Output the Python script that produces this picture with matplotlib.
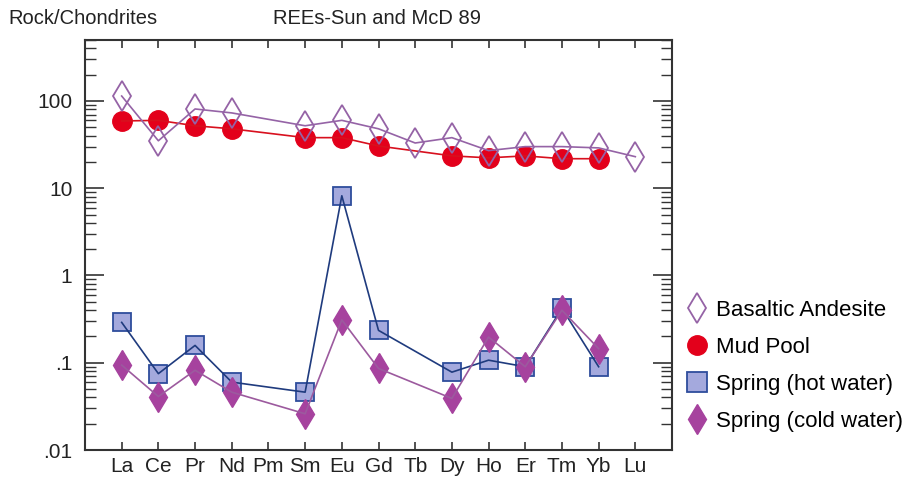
import numpy as np
import matplotlib
matplotlib.use('Agg')
import matplotlib.pyplot as plt
from matplotlib.lines import Line2D
from matplotlib.ticker import FixedLocator, LogLocator, NullFormatter, FixedFormatter

plt.rcParams['font.family'] = ['Liberation Sans', 'DejaVu Sans']

# REE order (chondrite normalised, Sun and McDonough 1989)
elements = ['La', 'Ce', 'Pr', 'Nd', 'Pm', 'Sm', 'Eu', 'Gd', 'Tb', 'Dy', 'Ho', 'Er', 'Tm', 'Yb', 'Lu']

# None = not measured
basaltic = [114, 35, 81, 73, None, 52, 60, 48, 33, 38, 27, 30, 30, 29, 23]
mud_pool = [59, 60, 52, 48, None, 38, 38, 30.5, None, 23.5, 22.3, 23.5, 21.8, 21.8, None]
spring_hot = [0.29, 0.075, 0.158, 0.060, None, 0.046, 8.2, 0.235, None, 0.078, 0.107, 0.090, 0.42, 0.090, None]
spring_cold = [0.094, 0.041, 0.082, 0.046, None, 0.026, 0.31, 0.086, None, 0.039, 0.197, 0.090, 0.40, 0.145, None]

labels = ['Basaltic Andesite', 'Mud Pool', 'Spring (hot water)', 'Spring (cold water)']

ytick_vals = [0.01, 0.1, 1, 10, 100]
ytick_labels = ['.01', '.1', '1', '10', '100']

x_all = np.arange(1, len(elements) + 1)


def valid(vals):
    xs = [x for x, v in zip(x_all, vals) if v is not None]
    ys = [v for v in vals if v is not None]
    return xs, ys


fig = plt.figure(figsize=(9.10, 4.78), dpi=100)
ax = fig.add_axes([85/910, 1 - 450/478, (672 - 85)/910, (450 - 40)/478])

# mud pool
xs, ys = valid(mud_pool)
ax.plot(xs, ys, ls='none', marker='o', ms=14, mfc='#e3001b', mec='#e3001b', zorder=2)
ax.plot(xs, ys, color='#d8101e', lw=1.2, zorder=2.1)

# basaltic andesite
xs, ys = valid(basaltic)
ax.plot(xs, ys, ls='none', marker='d', ms=15, mfc='none', mec='#9563a6', mew=1.3, zorder=2.2)
ax.plot(xs, ys, color='#9563a6', lw=1.2, zorder=2.3)

# hot spring
xs, ys = valid(spring_hot)
ax.plot(xs, ys, ls='none', marker='s', ms=13, mfc='#a4a9dd', mec='#2e4d9c', mew=1.3, zorder=2.4)
ax.plot(xs, ys, color='#1f3b7e', lw=1.2, zorder=2.5)

# cold spring
xs, ys = valid(spring_cold)
ax.plot(xs, ys, ls='none', marker='d', ms=15, mfc='#a6429e', mec='#a6429e', zorder=2.6)
ax.plot(xs, ys, color='#9c5a9e', lw=1.2, zorder=2.7)

ax.set_yscale('log')
ax.set_xlim(0, 16)
ax.set_ylim(0.01, 500)

ax.xaxis.set_major_locator(FixedLocator(x_all))
ax.set_xticklabels(elements, fontsize=15)
ax.yaxis.set_major_locator(FixedLocator(ytick_vals))
ax.yaxis.set_major_formatter(FixedFormatter(ytick_labels))
ax.yaxis.set_minor_locator(LogLocator(base=10, subs=np.arange(2, 10)))
ax.yaxis.set_minor_formatter(NullFormatter())

ax.tick_params(axis='x', which='major', direction='in', top=True, bottom=True,
               length=6, width=1.2, pad=5, colors='#333333', labelcolor='#222222')
ax.tick_params(axis='y', which='major', direction='in', left=True, right=True,
               length=14, width=1.2, pad=9, labelsize=15, colors='#333333', labelcolor='#222222')
ax.tick_params(axis='y', which='minor', direction='in', left=True, right=True,
               length=8, width=1.0, colors='#333333')
for s in ax.spines.values():
    s.set_linewidth(1.5)
    s.set_color('#333333')

handles = [
    Line2D([], [], ls='none', marker='d', ms=15, mfc='none', mec='#9563a6', mew=1.3),
    Line2D([], [], ls='none', marker='o', ms=14, mfc='#e3001b', mec='#e3001b'),
    Line2D([], [], ls='none', marker='s', ms=14, mfc='#a4a9dd', mec='#2e4d9c', mew=1.3),
    Line2D([], [], ls='none', marker='d', ms=15, mfc='#a6429e', mec='#a6429e'),
]
ax.legend(handles, labels, loc='center left', bbox_to_anchor=(1.01, 0.205),
          frameon=False, fontsize=16, handlelength=0.9, handletextpad=0.4,
          labelspacing=0.72, borderaxespad=0)

fig.text(8/910, 1 - 18/478, 'Rock/Chondrites', fontsize=14.5, va='center', ha='left', color='#222222')
fig.text(273/910, 1 - 18/478, 'REEs-Sun and McD 89', fontsize=14.5, va='center', ha='left', color='#222222')

fig.savefig('out.png', dpi=100)
